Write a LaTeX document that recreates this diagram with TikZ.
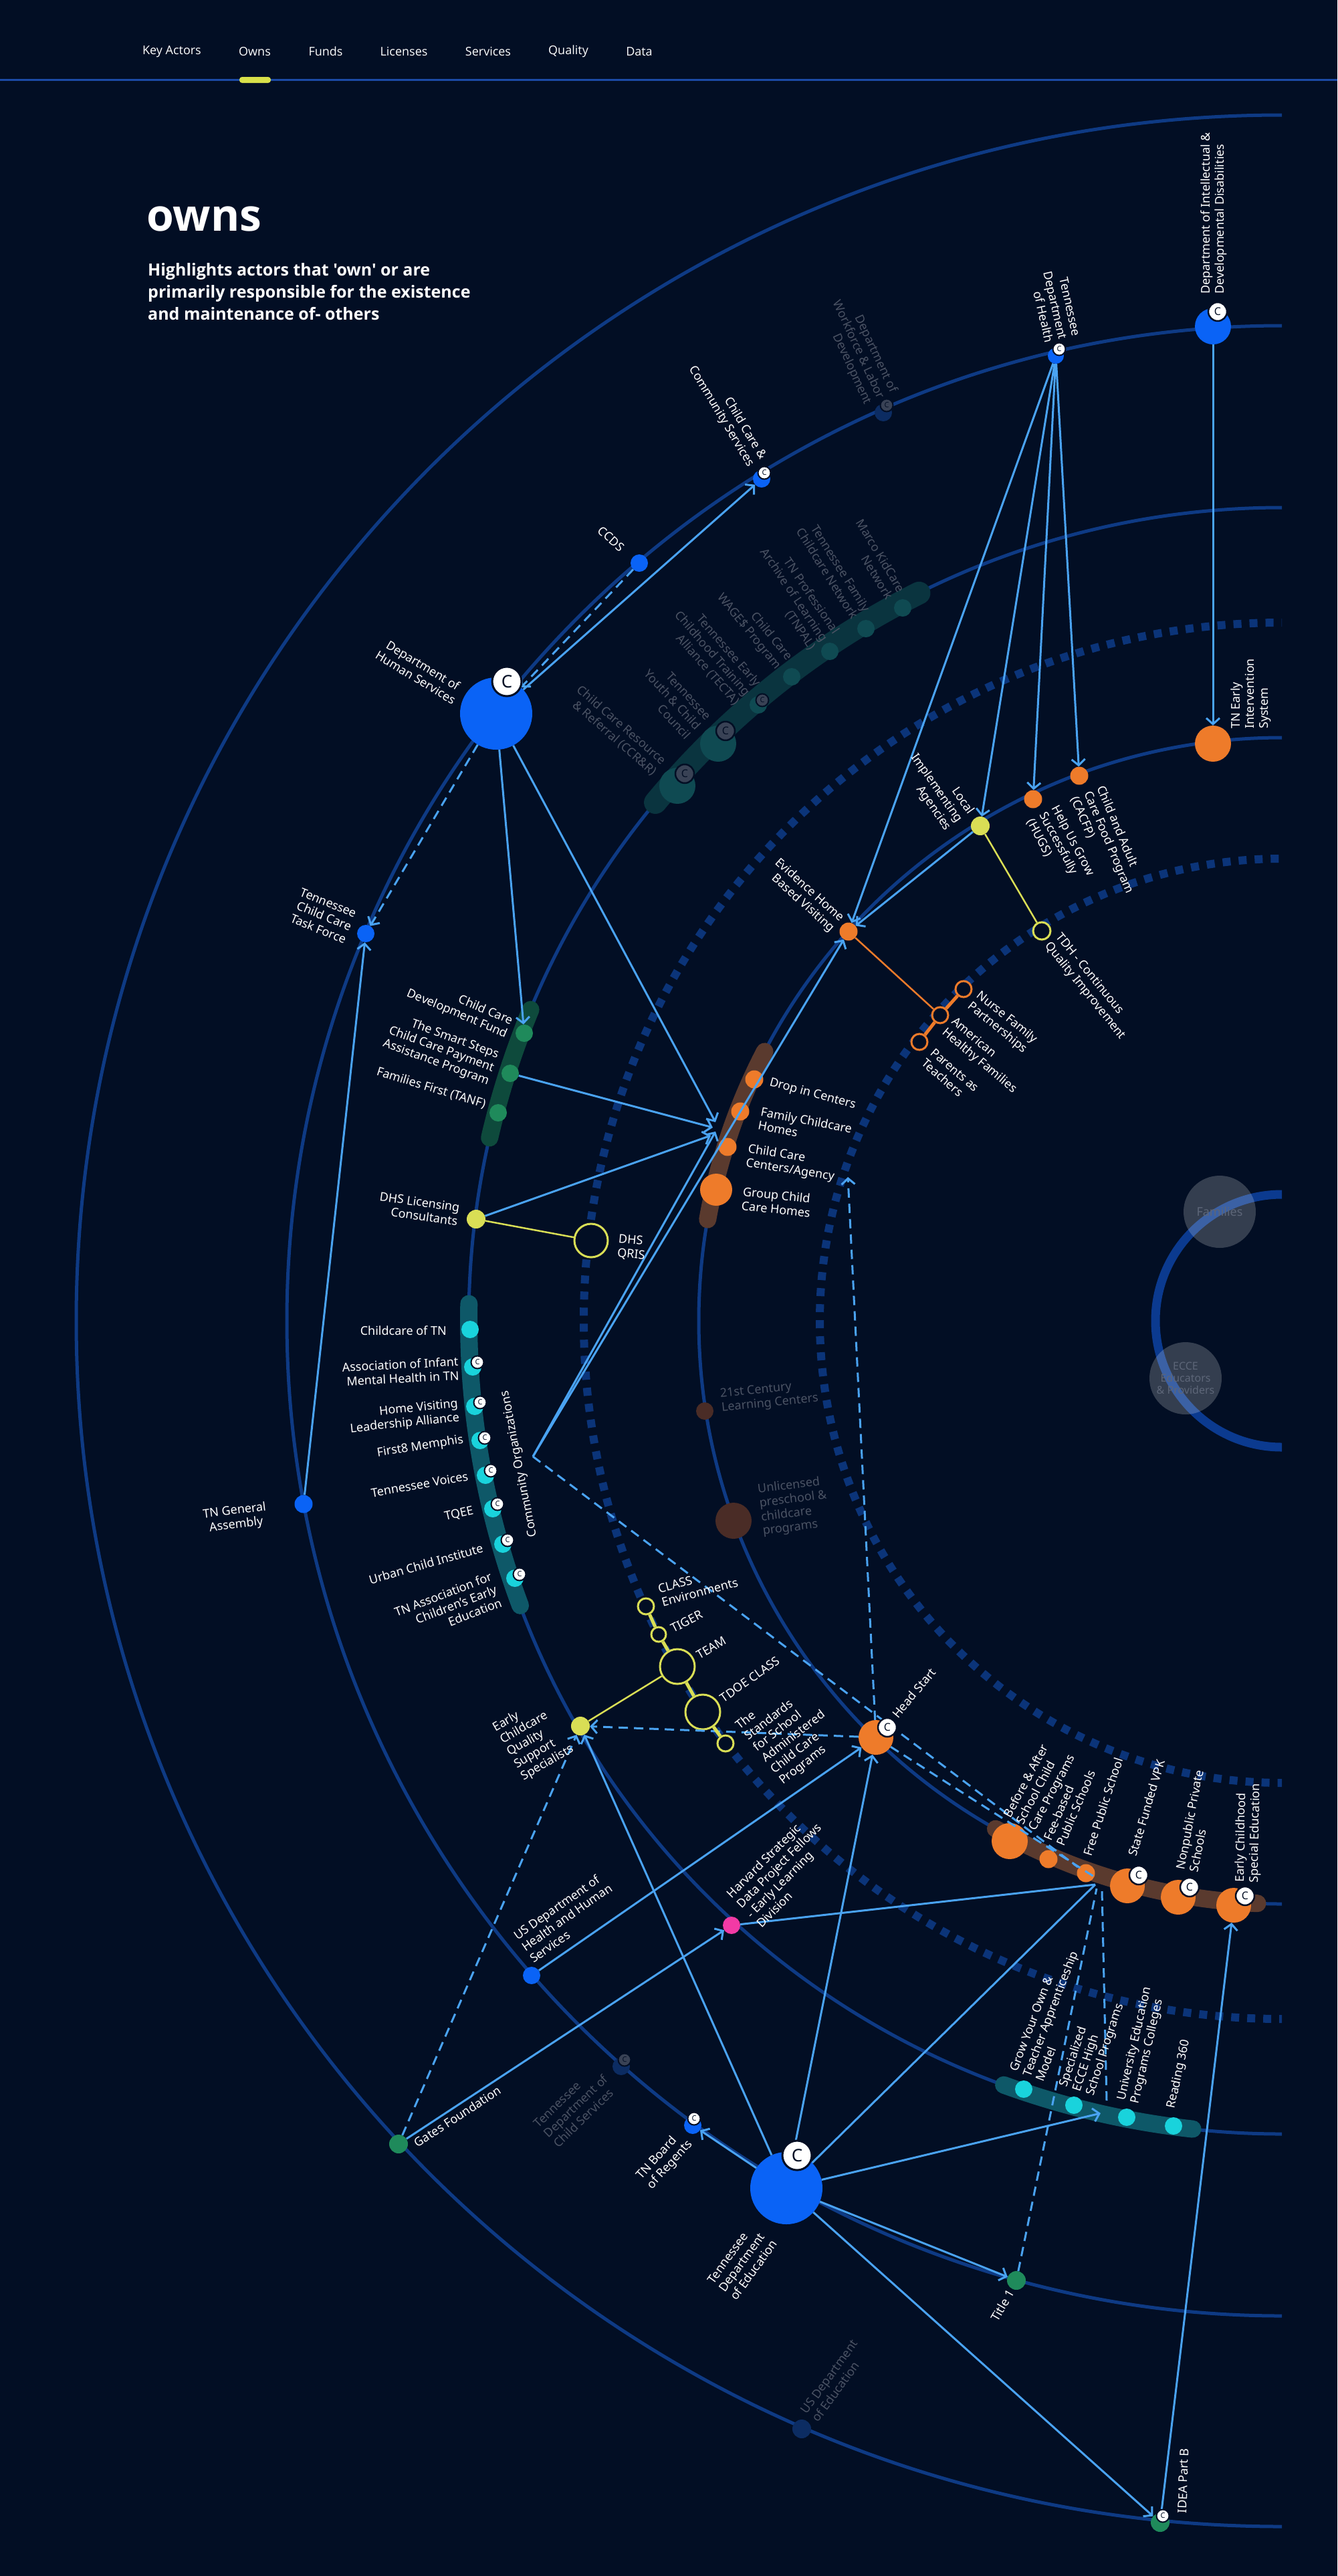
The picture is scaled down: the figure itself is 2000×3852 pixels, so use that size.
\documentclass[tikz,border=0pt]{standalone}
\usepackage{fontspec}
\setmainfont{Noto Sans}
\newfontfamily\navfont{Open Sans}
\usetikzlibrary{arrows.meta}

\definecolor{bgnavy}{HTML}{020E24}
\definecolor{ringblue}{HTML}{0E3A84}
\definecolor{dotblue}{HTML}{0B3479}
\definecolor{famblue}{HTML}{0B3A8F}
\definecolor{linkblue}{HTML}{4AA3F2}
\definecolor{actorblue}{HTML}{0A63F6}
\definecolor{actororange}{HTML}{EE7B2A}
\definecolor{actoryellow}{HTML}{D9DE55}
\definecolor{actorcyan}{HTML}{19D3DC}
\definecolor{actorgreen}{HTML}{1F8A5B}
\definecolor{actorpink}{HTML}{F23AA5}
\definecolor{fadetext}{HTML}{4B5364}
\definecolor{famtext}{HTML}{5D6678}
\definecolor{fadeblue}{HTML}{0C2C62}
\definecolor{fadeteal}{HTML}{0F4A52}
\definecolor{fadebrown}{HTML}{4A2C26}
\definecolor{fadebadge}{HTML}{394255}
\definecolor{bandbrown}{HTML}{5A3A2E}
\definecolor{bandteal}{HTML}{0E5868}
\definecolor{bandgreen}{HTML}{0E4A3C}
\definecolor{bandfade}{HTML}{0A343F}
\definecolor{navline}{HTML}{1B4AA6}
\definecolor{pill}{HTML}{D8E04A}

\tikzset{
  dot/.style={circle, inner sep=0pt, minimum size=#1},
  ring/.style={circle, inner sep=0pt, minimum size=#1, fill=bgnavy, line width=3},
  lbl/.style={text=white, inner sep=0pt, font=\fontsize{18}{21}\selectfont},
  lblout/.style={lbl, anchor=east, align=right},
  lblin/.style={lbl, anchor=west, align=left},
  lblfade/.style={text=fadetext},
  own/.style={draw=linkblue, line width=3, -{Straight Barb[length=9pt, width=20pt]}},
  owndash/.style={own, dash pattern=on 14pt off 9pt},
  link/.style={draw=linkblue, line width=3},
  linkdash/.style={link, dash pattern=on 14pt off 9pt},
  orbit/.style={draw=ringblue, line width=5},
  dotorbit/.style={draw=dotblue, line width=12, dash pattern=on 12pt off 12pt},
  band/.style={line width=26, line cap=round},
  cbig/.style={circle, fill=white, draw=bgnavy, line width=3, text=bgnavy, inner sep=0pt, minimum size=44, font=\bfseries\fontsize{26}{26}\selectfont},
  cmid/.style={cbig, minimum size=28, line width=2.5, font=\bfseries\fontsize{16}{16}\selectfont},
  csmall/.style={cbig, minimum size=19, line width=2, font=\bfseries\fontsize{11}{11}\selectfont},
  cfade/.style={fill=fadebadge},
  navitem/.style={text=white, inner sep=0pt, font=\navfont\fontsize{18}{20}\selectfont},
}

\begin{document}
\begin{tikzpicture}[x=1pt, y=-1pt]
  % 背景
  \fill[bgnavy] (0,0) rectangle (2000,3852);
  \useasboundingbox (0,0) rectangle (2000,3852);
  % 导航栏
  \draw[navline, line width=3] (0,119.5) -- (2000,119.5);
  \fill[pill, rounded corners=4] (358,115) rectangle (405,124);
  \node[navitem] (navkey) at (257,77) {Key Actors};
  \node[navitem] (navowns) at (381,77) {Owns};
  \node[navitem] (navfunds) at (487,77) {Funds};
  \node[navitem] (navlic) at (604,77) {Licenses};
  \node[navitem] (navserv) at (730,77) {Services};
  \node[navitem] (navqual) at (850,77) {Quality};
  \node[navitem] (navdata) at (956,77) {Data};
  % 标题
  \node[anchor=base west, text=white, inner sep=0pt, font=\navfont\bfseries\fontsize{66}{66}\selectfont] (title) at (219,345) {owns};
  \node[anchor=north west, text=white, inner sep=0pt, align=left, font=\navfont\bfseries\fontsize{25}{33}\selectfont] (subtitle) at (221,393) {Highlights actors that 'own' or are\\primarily responsible for the existence\\and maintenance of- others};

  % 同心圆弧
  \begin{scope}
    \clip (0,0) rectangle (1917,3852);
    \draw[orbit] (1917,1975) circle[radius=1803];
    \draw[orbit] (1917,1975) circle[radius=1488];
    \draw[orbit] (1917,1975) circle[radius=1216];
    \draw[dotorbit] (1917,1975) circle[radius=1044];
    \draw[orbit] (1917,1975) circle[radius=872];
    \draw[dotorbit] (1917,1975) circle[radius=691];
    \draw[famblue, line width=13] (1917,1975) circle[radius=189];
  \end{scope}

  % 色带
  \draw[band, draw=bandfade, line width=34] (1917,1975) ++(219.6:1216) arc[start angle=219.6, end angle=243.5, radius=1216];
  \draw[band, draw=bandgreen] (1917,1975) ++(202.5:1216) arc[start angle=202.5, end angle=193, radius=1216];
  \draw[band, draw=bandteal] (1917,1975) ++(181.2:1216) arc[start angle=181.2, end angle=159.5, radius=1216];
  \draw[band, draw=bandbrown] (1917,1975) ++(207.5:872) arc[start angle=207.5, end angle=190, radius=872];
  \draw[band, draw=bandbrown] (1917,1975) ++(119.4:872) arc[start angle=119.4, end angle=92.4, radius=872];
  \draw[band, draw=bandteal] (1917,1975) ++(110:1216) arc[start angle=110, end angle=96.3, radius=1216];

  % 群体
  \node[circle, fill=white, fill opacity=0.2, text opacity=1, text=famtext, minimum size=108, inner sep=0pt, font=\bfseries\fontsize{18}{21}\selectfont] (families) at (1824,1812) {Families};
  \node[circle, fill=white, fill opacity=0.2, text opacity=1, text=famtext, minimum size=108, inner sep=0pt, align=center, font=\bfseries\fontsize{16}{18}\selectfont] (ecce) at (1773,2061) {ECCE\\Educators\\\& Providers};

  % 蓝色节点
  \node[dot=26, fill=actorblue] (cccs) at (1139,716) {};
  \node[dot=26, fill=actorblue] (ccds) at (956,842) {};
  \node[dot=108, fill=actorblue] (dhs) at (742,1067) {};
  \node[dot=26, fill=actorblue] (task) at (547,1396) {};
  \node[dot=24, fill=actorblue] (health) at (1579,532) {};
  \node[dot=54, fill=actorblue] (idd) at (1814,488) {};
  \node[dot=27, fill=actorblue] (general) at (454,2249) {};
  \node[dot=26, fill=actorblue] (hhs) at (795,2954) {};
  \node[dot=26, fill=actorblue] (tbr) at (1036,3178) {};
  \node[dot=108, fill=actorblue] (doe) at (1176,3272) {};
  \node[dot=26, fill=fadeblue] (workforce) at (1321,617) {};
  \node[dot=26, fill=fadeblue] (childsvc) at (929,3090) {};
  \node[dot=28, fill=fadeblue] (usdoe) at (1199,3632) {};

  % 橙色节点
  \node[dot=54, fill=actororange] (tneis) at (1814,1112) {};
  \node[dot=27, fill=actororange] (hugs) at (1545,1195) {};
  \node[dot=27, fill=actororange] (cacfp) at (1614,1160) {};
  \node[dot=27, fill=actororange] (ehbv) at (1269,1393) {};
  \node[dot=27, fill=actororange] (drop) at (1128,1614) {};
  \node[dot=27, fill=actororange] (fch) at (1107,1662) {};
  \node[dot=27, fill=actororange] (ccca) at (1088,1715) {};
  \node[dot=48, fill=actororange] (gcch) at (1071,1779) {};
  \node[dot=52, fill=actororange] (head) at (1310,2598) {};
  \node[dot=54, fill=actororange] (before) at (1510,2753) {};
  \node[dot=27, fill=actororange] (fee) at (1568,2780) {};
  \node[dot=27, fill=actororange] (freeps) at (1624,2801) {};
  \node[dot=52, fill=actororange] (vpk) at (1686,2820) {};
  \node[dot=52, fill=actororange] (nonpub) at (1762,2837) {};
  \node[dot=52, fill=actororange] (ecse) at (1845,2849) {};
  \node[ring=24, draw=actororange] (nfp) at (1441,1479) {};
  \node[ring=24, draw=actororange] (ahf) at (1406,1518) {};
  \node[ring=24, draw=actororange] (pat) at (1375,1558) {};
  \node[dot=26, fill=fadebrown] (century) at (1054,2110) {};
  \node[dot=54, fill=fadebrown] (unlic) at (1097,2274) {};

  % 黄色节点
  \node[dot=28, fill=actoryellow] (lia) at (1466,1235) {};
  \node[dot=28, fill=actoryellow] (dhslc) at (712,1823) {};
  \node[dot=28, fill=actoryellow] (ecqss) at (868,2581) {};
  \node[ring=26, draw=actoryellow] (tdh) at (1558,1392) {};
  \node[ring=50, draw=actoryellow] (qris) at (884,1855) {};
  \node[ring=24, draw=actoryellow] (classenv) at (966,2402) {};
  \node[ring=22, draw=actoryellow] (tiger) at (985,2444) {};
  \node[ring=52, draw=actoryellow] (team) at (1013,2492) {};
  \node[ring=52, draw=actoryellow] (tdoe) at (1051,2560) {};
  \node[ring=24, draw=actoryellow] (stand) at (1085,2607) {};

  % 绿色节点
  \node[dot=26, fill=actorgreen] (ccdf) at (784,1545) {};
  \node[dot=26, fill=actorgreen] (smart) at (763,1605) {};
  \node[dot=26, fill=actorgreen] (tanf) at (745,1664) {};
  \node[dot=28, fill=actorgreen] (gates) at (596,3206) {};
  \node[dot=28, fill=actorgreen] (title1) at (1520,3410) {};
  \node[dot=28, fill=actorgreen] (idea) at (1735,3772) {};

  % 青色节点
  \node[dot=26, fill=actorcyan] (childtn) at (703,1988) {};
  \node[dot=26, fill=actorcyan] (aimh) at (707,2044) {};
  \node[dot=26, fill=actorcyan] (hvla) at (710,2103) {};
  \node[dot=26, fill=actorcyan] (first8) at (718,2154) {};
  \node[dot=26, fill=actorcyan] (voices) at (726,2206) {};
  \node[dot=26, fill=actorcyan] (tqee) at (737,2256) {};
  \node[dot=26, fill=actorcyan] (urban) at (752,2309) {};
  \node[dot=26, fill=actorcyan] (tnaece) at (770,2360) {};
  \node[dot=26, fill=actorcyan] (grow) at (1531,3124) {};
  \node[dot=26, fill=actorcyan] (spec) at (1606,3148) {};
  \node[dot=26, fill=actorcyan] (univ) at (1685,3166) {};
  \node[dot=26, fill=actorcyan] (read) at (1755,3179) {};
  \node[dot=54, fill=fadeteal] (ccrr) at (1013,1175) {};
  \node[dot=54, fill=fadeteal] (youth) at (1074,1112) {};
  \node[dot=26, fill=fadeteal] (tecta) at (1134,1054) {};
  \node[dot=26, fill=fadeteal] (wages) at (1184,1012) {};
  \node[dot=26, fill=fadeteal] (tnpal) at (1241,974) {};
  \node[dot=26, fill=fadeteal] (tfcn) at (1295,940) {};
  \node[dot=26, fill=fadeteal] (marco) at (1350,909) {};

  % 粉色节点
  \node[dot=26, fill=actorpink] (harvard) at (1094,2879) {};

  % 端点
  \coordinate (cl1) at (1070,1678);
  \coordinate (cl2) at (1066,1686);
  \coordinate (cl3) at (1063,1698);
  \coordinate (cl4) at (1070,1692);
  \coordinate (commsrc) at (797,2178);
  \coordinate (hsup) at (1268,1760);
  \coordinate (banda) at (1612,2792);
  \coordinate (bandb) at (1639,2808);
  \coordinate (bandc) at (1638,2818);
  \coordinate (bandd) at (1640,2824);
  \coordinate (bande) at (1648,2828);
  \coordinate (tealpt) at (1655,3141);
  \coordinate (tealarr) at (1646,3160);

  % 从属关系连线
  \draw[own] (dhs) -- (cccs);
  \draw[owndash] (ccds) -- (dhs);
  \draw[owndash] (dhs) -- (task);
  \draw[own] (dhs) -- (ccdf);
  \draw[own] (dhs) -- (cl1);
  \draw[own] (smart) -- (cl2);
  \draw[own] (dhslc) -- (cl3);
  \draw[own] (commsrc) -- (cl4);
  \draw[own] (commsrc) -- (ehbv);
  \draw[own] (general) -- (task);
  \draw[own] (health) -- (ehbv);
  \draw[own] (health) -- (lia);
  \draw[own] (health) -- (hugs);
  \draw[own] (health) -- (cacfp);
  \draw[own] (lia) -- (ehbv);
  \draw[own] (idd) -- (tneis);
  \draw[owndash] (head) -- (ecqss);
  \draw[owndash] (head) -- (hsup);
  \draw[linkdash] (commsrc) -- (banda);
  \draw[linkdash] (head) -- (bandb);
  \draw[owndash] (gates) -- (ecqss);
  \draw[own] (gates) -- (harvard);
  \draw[own] (hhs) -- (head);
  \draw[link] (harvard) -- (bandc);
  \draw[own] (doe) -- (ecqss);
  \draw[own] (doe) -- (head);
  \draw[link] (doe) -- (bandc);
  \draw[own] (doe) -- (tbr);
  \draw[own] (doe) -- (tealarr);
  \draw[own] (doe) -- (title1);
  \draw[own] (doe) -- (idea);
  \draw[linkdash] (title1) -- (bandd);
  \draw[linkdash] (tealpt) -- (bande);
  \draw[own] (idea) -- (ecse);
  % 项目连线
  \draw[actororange, line width=2.5] (ehbv) -- (ahf);
  \draw[actororange, line width=5] (nfp) -- (ahf) -- (pat);
  \draw[actoryellow, line width=2.5] (lia) -- (tdh);
  \draw[actoryellow, line width=2.5] (dhslc) -- (qris);
  \draw[actoryellow, line width=5] (classenv) -- (tiger) -- (team) -- (tdoe) -- (stand);
  \draw[actoryellow, line width=2.5] (team) -- (ecqss);

  % C 标记
  \node[cbig] (dhsc) at (758,1019) {C};
  \node[cbig] (doec) at (1192,3223) {C};
  \node[cmid] (iddc) at (1821,466) {C};
  \node[cmid] (headc) at (1327,2583) {C};
  \node[cmid] (vpkc) at (1703,2804) {C};
  \node[cmid] (nonpubc) at (1779,2822) {C};
  \node[cmid] (ecsec) at (1862,2835) {C};
  \node[cmid, cfade] (ccrrc) at (1024,1157) {C};
  \node[cmid, cfade] (youthc) at (1085,1093) {C};
  \node[csmall, cfade] (tectac) at (1140,1047) {C};
  \node[csmall, cfade] (workforcec) at (1326,606) {C};
  \node[csmall, cfade] (childsvcc) at (934,3080) {C};
  \node[csmall] (cccsc) at (1143,707) {C};
  \node[csmall] (healthc) at (1584,522) {C};
  \node[csmall] (aimhc) at (714,2037) {C};
  \node[csmall] (hvlac) at (718,2097) {C};
  \node[csmall] (first8c) at (725,2150) {C};
  \node[csmall] (voicesc) at (734,2199) {C};
  \node[csmall] (tqeec) at (744,2249) {C};
  \node[csmall] (urbanc) at (759,2303) {C};
  \node[csmall] (tnaecec) at (777,2354) {C};
  \node[csmall] (tbrc) at (1038,3168) {C};
  \node[csmall] (ideac) at (1739,3762) {C};

  % 外侧标签
  \node[lblout, rotate=-42] (ccdsl) at (931,821) {CCDS};
  \node[lblout, rotate=-31, align=center] (dhsl) at (686,1039) {Department of\\Human Services};
  \node[lblout, rotate=-22] (taskl) at (525,1386) {Tennessee\\Child Care\\Task Force};
  \node[lblout, rotate=-59] (cccsl) at (1132,691) {Child Care \&\\Community Services};
  \node[lblout, lblfade, rotate=-65] (workforcel) at (1317,595) {Department of\\Workforce \& Labor\\Development};
  \node[lblout, rotate=-77] (healthl) at (1590,507) {Tennessee\\Department\\of Health};
  \node[lblin, rotate=90] (iddl) at (1815,440) {Department of Intellectual \&\\Developmental Disabilities};
  \node[lblin, rotate=90] (tneisl) at (1871,1090) {TN Early\\Intervention\\System};
  \node[lblout, lblfade, rotate=-41] (ccrrl) at (986,1148) {Child Care Resource\\\& Referral (CCR\&R)};
  \node[lblout, lblfade, rotate=-47] (youthl) at (1045,1088) {Tennessee\\Youth \& Child\\Council};
  \node[lblout, lblfade, rotate=-49] (tectal) at (1118,1038) {Tennessee Early\\Childhood Training\\Alliance (TECTA)};
  \node[lblout, lblfade, rotate=-51] (wagesl) at (1172,992) {Child Care\\WAGE\$ Program};
  \node[lblout, lblfade, rotate=-56] (tnpall) at (1233,958) {TN Professional\\Archive of Learning\\(TNPAL)};
  \node[lblout, lblfade, rotate=-58] (tfcnl) at (1288,918) {Tennessee Family\\Childcare Network};
  \node[lblout, lblfade, rotate=-59] (marcol) at (1340,889) {Marco KidCare\\Network};
  \node[lblout, rotate=-42] (ehbvl) at (1252,1383) {Evidence Home\\Based Visiting};
  \node[lblout, rotate=-55] (lial) at (1435,1228) {Local\\Implementing\\Agencies};
  \node[lblout, rotate=-23] (ccdfl) at (762,1538) {Child Care\\Development Fund};
  \node[lblout, rotate=-20] (smartl) at (738,1598) {The Smart Steps\\Child Care Payment\\Assistance Program};
  \node[lblout, rotate=-17] (tanfl) at (726,1652) {Families First (TANF)};
  \node[lblout, rotate=-8] (dhslcl) at (686,1816) {DHS Licensing\\Consultants};
  \node[lblout] (childtnl) at (668,1990) {Childcare of TN};
  \node[lblout, rotate=3] (aimhl) at (686,2046) {Association of Infant\\Mental Health in TN};
  \node[lblout, rotate=6] (hvlal) at (686,2110) {Home Visiting\\Leadership Alliance};
  \node[lblout, rotate=9] (first8l) at (693,2153) {First8 Memphis};
  \node[lblout, rotate=10] (voicesl) at (700,2207) {Tennessee Voices};
  \node[lblout, rotate=13] (tqeel) at (708,2259) {TQEE};
  \node[lblout, rotate=16] (urbanl) at (722,2314) {Urban Child Institute};
  \node[lblout, rotate=21] (tnaecel) at (742,2376) {TN Association for\\Children's Early\\Education};
  \node[lbl, rotate=101] (comml) at (777,2189) {Community Organizations};
  \node[lbl, rotate=7, align=center] (generall) at (352,2270) {TN General\\Assembly};
  \node[lblout, rotate=60] (title1l) at (1512,3425) {Title 1};

  % 内侧标签
  \node[lblin, rotate=-62] (hugsl) at (1559,1216) {Help Us Grow\\Successfully\\(HUGS)};
  \node[lblin, rotate=-67] (cacfpl) at (1626,1184) {Child and Adult\\Care Food Program\\(CACFP)};
  \node[lblin, rotate=-51] (tdhl) at (1574,1405) {TDH - Continuous\\Quality Improvement};
  \node[lblin, rotate=-39] (nfpl) at (1456,1495) {Nurse Family\\Partnerships};
  \node[lblin, rotate=-40] (ahfl) at (1418,1534) {American\\Healthy Families};
  \node[lblin, rotate=-41] (patl) at (1388,1579) {Parents as\\Teachers};
  \node[lblin, rotate=-15] (dropl) at (1151,1619) {Drop in Centers};
  \node[lblin, rotate=-11] (fchl) at (1136,1672) {Family Childcare\\Homes};
  \node[lblin, rotate=-9] (cccal) at (1117,1729) {Child Care\\Centers/Agency};
  \node[lblin, rotate=-6] (gcchl) at (1110,1792) {Group Child\\Care Homes};
  \node[lblin, rotate=-5] (qrisl) at (924,1864) {DHS\\QRIS};
  \node[lblin, lblfade, rotate=6] (centuryl) at (1078,2096) {21st Century\\Learning Centers};
  \node[lblin, lblfade, rotate=7] (unlicl) at (1137,2259) {Unlicensed\\preschool \&\\childcare\\programs};
  \node[lblin, rotate=15] (classenvl) at (987,2386) {CLASS\\Environments};
  \node[lblin, rotate=27] (tigerl) at (1004,2436) {TIGER};
  \node[lblin, rotate=30] (teaml) at (1043,2476) {TEAM};
  \node[lblin, rotate=35] (tdoel) at (1079,2541) {TDOE CLASS};
  \node[lblin, rotate=38] (standl) at (1136,2624) {The\\Standards\\for School\\Administered\\Child Care\\Programs};
  \node[lblin, rotate=30] (ecqssl) at (760,2622) {Early\\Childcare\\Quality\\Support\\Specialists};
  \node[lblin, rotate=50] (headl) at (1338,2566) {Head Start};
  \node[lblin, rotate=35] (hhsl) at (782,2913) {US Department of\\Health and Human\\Services};
  \node[lblin, rotate=45] (harvardl) at (1112,2857) {Harvard Strategic\\Data Project Fellows\\- Early Learning\\Division};
  \node[lblin, rotate=33] (gatesl) at (621,3206) {Gates Foundation};
  \node[lblin, lblfade, rotate=44] (childsvcl) at (816,3193) {Tennessee\\Department of\\Child Services};
  \node[lblin, rotate=48] (tbrl) at (964,3264) {TN Board\\of Regents};
  \node[lblin, rotate=54] (doel) at (1079,3425) {Tennessee\\Department\\of Education};
  \node[lblin, lblfade, rotate=54] (usdoel) at (1210,3613) {US Department\\of Education};
  \node[lblin, rotate=88] (ideal) at (1768,3758) {IDEA Part B};
  \node[lblin, rotate=62] (beforel) at (1526,2727) {Before \& After\\School Child\\Care Programs};
  \node[lblin, rotate=67] (feel) at (1576,2755) {Fee-based\\Public Schools};
  \node[lblin, rotate=72] (freepsl) at (1626,2775) {Free Public School};
  \node[lblin, rotate=73] (vpkl) at (1693,2775) {State Funded VPK};
  \node[lblin, rotate=79] (nonpubl) at (1775,2797) {Nonpublic Private\\Schools};
  \node[lblin, rotate=89] (ecsel) at (1866,2815) {Early Childhood\\Special Education};
  \node[lblin, rotate=69] (growl) at (1535,3104) {Grow Your Own \&\\Teacher Apprenticeship\\Model};
  \node[lblin, rotate=72] (specl) at (1611,3127) {Specialized\\ECCE High\\School Programs};
  \node[lblin, rotate=77] (univl) at (1688,3143) {University Education\\Programs Colleges};
  \node[lblin, rotate=78] (readl) at (1752,3153) {Reading 360};
\end{tikzpicture}
\end{document}
